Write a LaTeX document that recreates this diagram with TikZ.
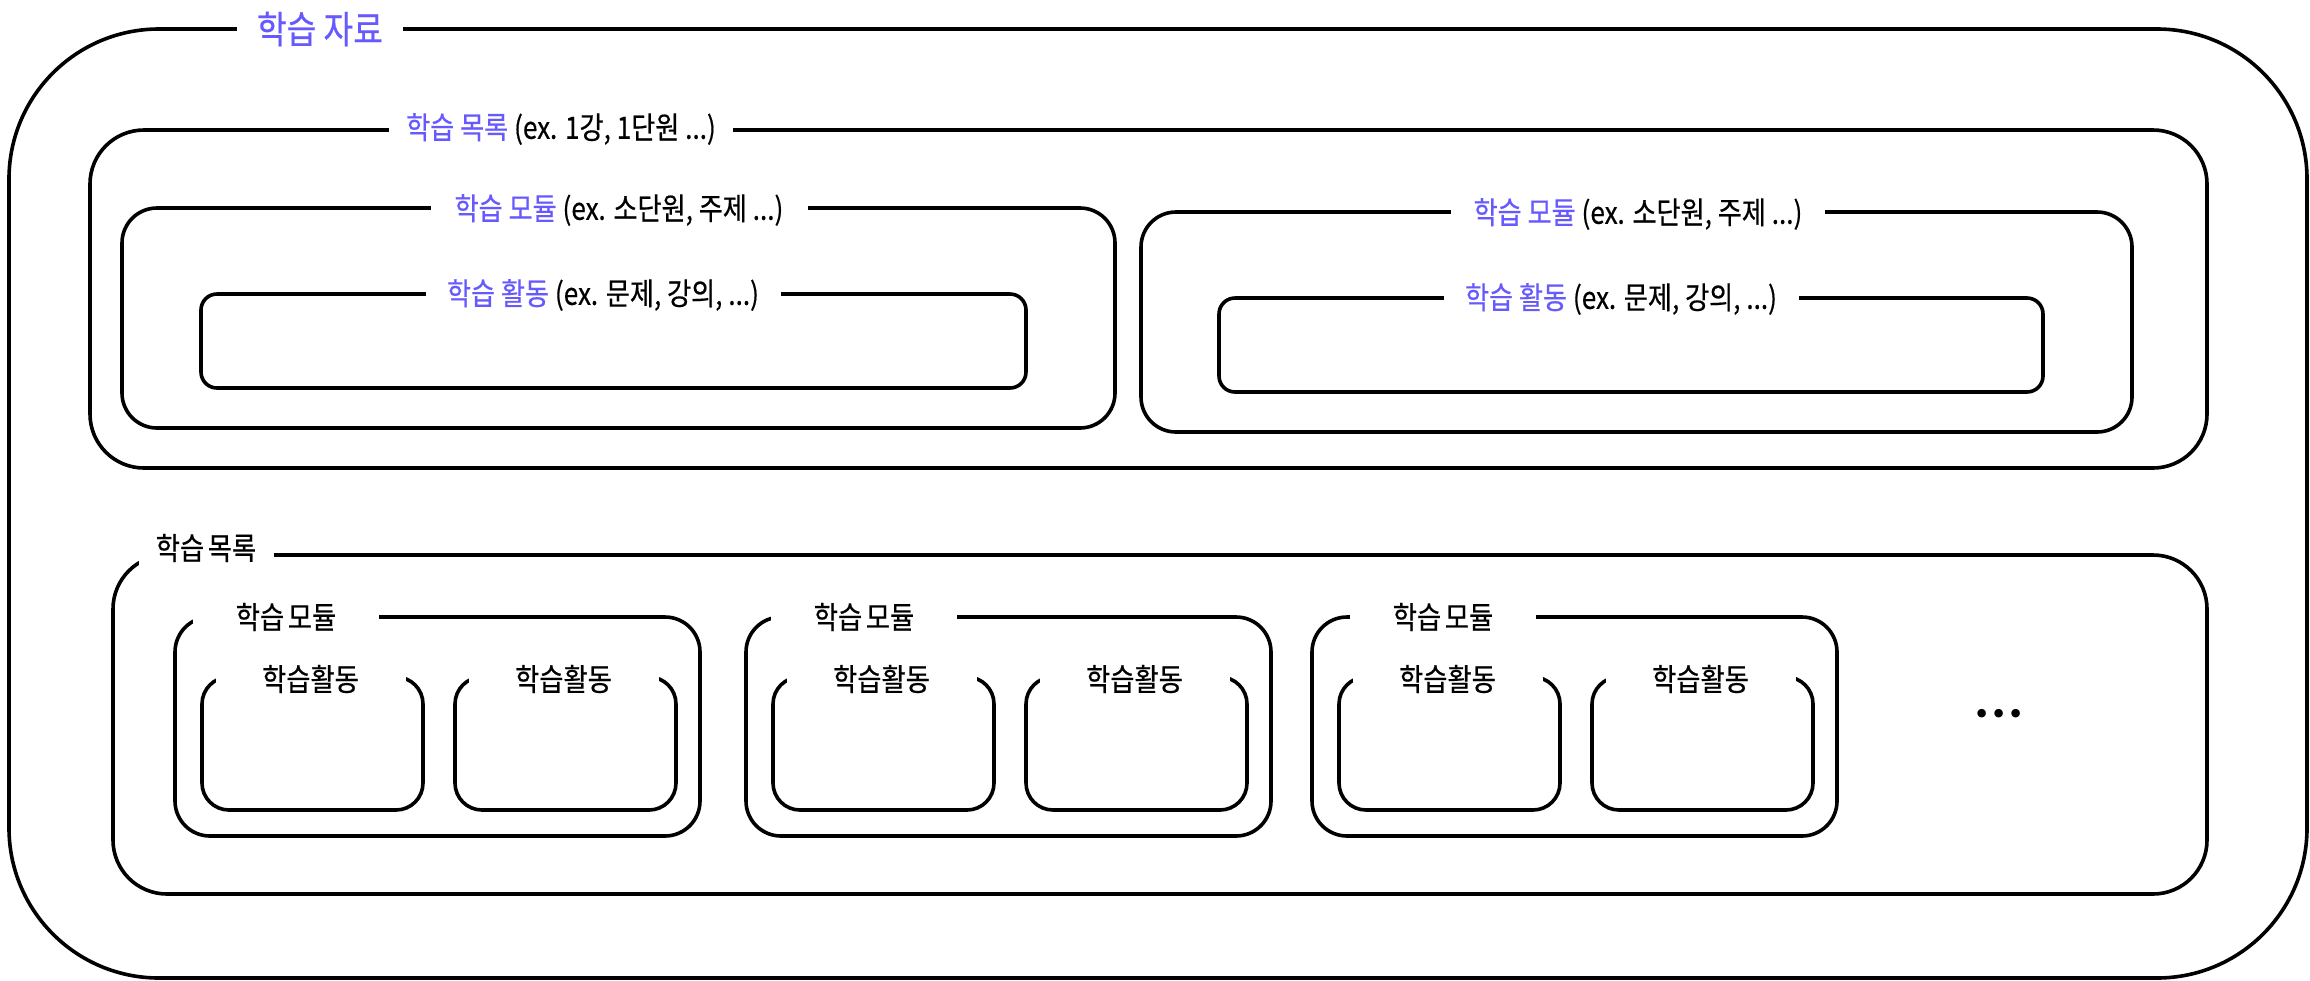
\documentclass[tikz,border=0pt]{standalone}
\usepackage{fontspec}
\setmainfont{Noto Sans CJK KR}[FakeStretch=0.85, FakeBold=0.5]
\newfontfamily\dotfont{DejaVu Sans}
\definecolor{hl}{RGB}{102,90,255}

\begin{document}
\begin{tikzpicture}[x=0.1mm, y=-0.1mm, line width=0.36mm,
        tag/.style={fill=white, inner sep=0pt, minimum height=4mm},
        titlefont/.style={font=\fontsize{10.8pt}{12pt}\selectfont},
        headfont/.style={font=\fontsize{8.75pt}{10pt}\selectfont},
        subfont/.style={font=\fontsize{8.8pt}{10pt}\selectfont}]
    \useasboundingbox (0,0) rectangle (2310,980);
    \draw[rounded corners=15mm] (9,29) rectangle (2307,978);
    \draw[rounded corners=5.4mm] (90,130) rectangle (2207,468);
    \draw[rounded corners=3.5mm] (122,208) rectangle (1115,428);
    \draw[rounded corners=3.5mm] (1141,212) rectangle (2132,432);
    \draw[rounded corners=1.6mm] (201,294) rectangle (1026,388);
    \draw[rounded corners=1.6mm] (1219,298) rectangle (2043,392);
    \draw[rounded corners=5.4mm] (113,555) rectangle (2207,894);
    \node[tag, titlefont, minimum width=16.6mm, text=hl] (title) at (320,29) {학습 자료};
    \node[tag, headfont, minimum width=34.4mm] (list) at (561,129) {\textcolor{hl}{학습 목록} (ex. 1강, 1단원 ...)};
    \node[tag, headfont, minimum width=37.7mm] (modA) at (619,210) {\textcolor{hl}{학습 모듈} (ex. 소단원, 주제 ...)};
    \node[tag, headfont, minimum width=35.5mm] (actA) at (603,295) {\textcolor{hl}{학습 활동} (ex. 문제, 강의, ...)};
    \node[tag, headfont, minimum width=37.4mm] (modB) at (1638,214) {\textcolor{hl}{학습 모듈} (ex. 소단원, 주제 ...)};
    \node[tag, headfont, minimum width=35.5mm] (actB) at (1621,299) {\textcolor{hl}{학습 활동} (ex. 문제, 강의, ...)};
    \node[tag, subfont, minimum width=13.5mm] (list2) at (206,548) {학습\hspace{0.12em}목록};
    \foreach \x/\t in {175/286, 746/864, 1312/1443} {
        \draw[rounded corners=3.5mm] (\x,617) rectangle ++(525,219);
        \draw[rounded corners=2.7mm] (\x+27,677) rectangle ++(221,133);
        \draw[rounded corners=2.7mm] (\x+280,677) rectangle ++(221,133);
        \node[tag, subfont, minimum width=18.6mm] (mod\x) at (\t,617) {학습\hspace{0.12em}모듈};
        \node[tag, subfont, minimum width=19mm] (one\x) at (\x+135.5,679) {학습활동};
        \node[tag, subfont, minimum width=19mm] (two\x) at (\x+388.5,679) {학습활동};
    }
    \node[font=\dotfont\fontsize{8.3pt}{10pt}\selectfont, inner sep=0pt] (more) at (1999,717) {•••};
\end{tikzpicture}
\end{document}
